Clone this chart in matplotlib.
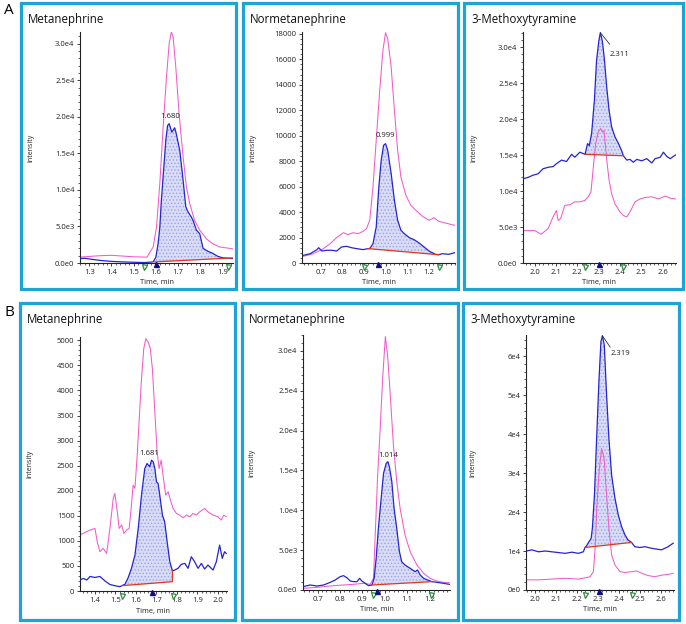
import numpy as np
import matplotlib
matplotlib.use('Agg')
import matplotlib.pyplot as plt
from matplotlib.patches import Rectangle
from matplotlib.ticker import FuncFormatter, AutoMinorLocator

plt.rcParams['font.family'] = ['Open Sans', 'DejaVu Sans']
plt.rcParams['hatch.linewidth'] = 0.6

W, H = 686, 624

# ---------------- data ----------------
# A1 Metanephrine
a1_blue_t = [1.258, 1.28, 1.30, 1.35, 1.40, 1.45, 1.50, 1.55, 1.588, 1.60, 1.61, 1.618, 1.625, 1.636, 1.645,
             1.653, 1.66, 1.672, 1.685, 1.692, 1.708, 1.723, 1.735, 1.745, 1.76, 1.768, 1.783, 1.798, 1.813,
             1.835, 1.858, 1.88, 1.903, 1.948]
a1_blue_i = [600, 650, 550, 350, 220, 150, 100, 60, 150, 800, 2600, 4900, 8600, 13100, 16800,
             18800, 19060, 17900, 18500, 17700, 15400, 11300, 7700, 7000, 6300, 5800, 4500, 4000, 2000,
             1600, 1300, 900, 700, 600]
a1_pink_t = [1.258, 1.30, 1.35, 1.40, 1.45, 1.50, 1.56, 1.588, 1.603, 1.618, 1.633, 1.648, 1.66, 1.67, 1.678,
             1.69, 1.705, 1.723, 1.738, 1.753, 1.775, 1.798, 1.828, 1.858, 1.888, 1.933, 1.948]
a1_pink_i = [800, 900, 1000, 1050, 950, 850, 800, 2200, 4900, 10900, 18600, 25400, 30000, 31600, 30900,
             26800, 20400, 14500, 10400, 8100, 5800, 4500, 3300, 2600, 2200, 2000, 1900]
a1_base_t = [1.595, 1.948]
a1_base_i = [150, 700]
a1_rt = '1.680'

# A2 Normetanephrine
a2_blue_t = [0.618, 0.651, 0.682, 0.69, 0.705, 0.727, 0.75, 0.773, 0.796, 0.819, 0.842, 0.865, 0.895, 0.918,
             0.926, 0.941, 0.956, 0.968, 0.979, 0.99, 0.999, 1.009, 1.025, 1.04, 1.055, 1.07, 1.086, 1.109,
             1.131, 1.154, 1.177, 1.2, 1.23, 1.245, 1.261, 1.291, 1.319]
a2_blue_i = [600, 730, 1050, 1200, 940, 1000, 1000, 940, 1260, 1310, 1200, 1130, 1050, 1130,
             1130, 1520, 2830, 5970, 8060, 9240, 9370, 8850, 7020, 4920, 3350, 2570, 2300, 1990,
             1830, 1570, 1260, 940, 680, 650, 730, 680, 810]
a2_pink_t = [0.618, 0.666, 0.712, 0.743, 0.773, 0.804, 0.826, 0.849, 0.872, 0.895, 0.911, 0.926, 0.941, 0.956,
             0.972, 0.987, 0.999, 1.009, 1.025, 1.04, 1.055, 1.07, 1.093, 1.116, 1.139, 1.17, 1.2, 1.223,
             1.245, 1.276, 1.299, 1.319]
a2_pink_i = [520, 730, 1130, 1520, 1990, 2380, 2230, 2380, 2300, 2490, 2700, 3350, 5970, 9630,
             13560, 16700, 18090, 17620, 15390, 11990, 8850, 6750, 5310, 4530, 4140, 3660, 3350, 3560,
             3270, 3140, 3040, 2960]
a2_base_t = [0.918, 1.245]
a2_base_i = [1130, 650]
a2_rt = '0.999'

# A3 3-Methoxytyramine
a3_blue_t = [1.945, 1.969, 1.992, 2.016, 2.039, 2.063, 2.086, 2.102, 2.126, 2.149, 2.173, 2.188, 2.212, 2.228,
             2.236, 2.248, 2.256, 2.267, 2.28, 2.29, 2.301, 2.308, 2.317, 2.326, 2.338, 2.349, 2.361, 2.377,
             2.393, 2.408, 2.416, 2.432, 2.447, 2.463, 2.479, 2.502, 2.526, 2.549, 2.565, 2.589, 2.604,
             2.62, 2.636, 2.66]
a3_blue_i = [11700, 11900, 12200, 12400, 13100, 13300, 13400, 13800, 14300, 14100, 15100, 14700, 15400, 15200,
             15100, 16600, 16300, 18000, 22600, 28100, 30900, 32000, 30900, 28600, 24400, 21200, 18900, 17500,
             16600, 15600, 14900, 14300, 14400, 14000, 14400, 14200, 14500, 13900, 14500, 14700, 15400,
             14800, 14500, 15000]
a3_pink_t = [1.945, 2.0, 2.031, 2.063, 2.086, 2.102, 2.11, 2.122, 2.141, 2.165, 2.188, 2.212, 2.236, 2.251,
             2.264, 2.275, 2.286, 2.298, 2.31, 2.317, 2.325, 2.338, 2.349, 2.361, 2.377, 2.40, 2.416, 2.432,
             2.447, 2.471, 2.494, 2.518, 2.549, 2.581, 2.612, 2.636, 2.66]
a3_pink_i = [4500, 4500, 4000, 4800, 6400, 7300, 5900, 6200, 8000, 8100, 8500, 8500, 8700, 9200,
             9900, 13300, 16600, 18200, 18700, 18200, 18400, 14300, 11500, 9600, 8200, 7100, 6600, 6400,
             7100, 8500, 8900, 9100, 9200, 8900, 9300, 9000, 8900]
a3_base_t = [2.236, 2.416]
a3_base_i = [15100, 14900]
a3_rt = '2.311'

# B1 Metanephrine
b1_blue_t = [1.327, 1.343, 1.36, 1.376, 1.40, 1.424, 1.449, 1.473, 1.497, 1.522, 1.53, 1.546, 1.562, 1.578,
             1.595, 1.611, 1.627, 1.643, 1.654, 1.667, 1.676, 1.684, 1.692, 1.70, 1.708, 1.716, 1.729,
             1.74, 1.752, 1.765, 1.778, 1.789, 1.805, 1.821, 1.838, 1.854, 1.87, 1.886, 1.903, 1.919,
             1.935, 1.951, 1.976, 1.992, 2.008, 2.021, 2.032, 2.04]
b1_blue_i = [220, 250, 220, 290, 270, 290, 200, 130, 105, 86, 106, 133, 266, 452,
             717, 1248, 1912, 2444, 2543, 2477, 2610, 2577, 2444, 2178, 2145, 1912, 1514,
             1381, 983, 584, 400, 418, 452, 531, 551, 452, 684, 584, 452, 551,
             438, 518, 418, 584, 916, 651, 783, 750]
b1_pink_t = [1.327, 1.351, 1.376, 1.40, 1.411, 1.424, 1.44, 1.457, 1.473, 1.489, 1.497, 1.509, 1.518, 1.53,
             1.541, 1.554, 1.567, 1.578, 1.586, 1.595, 1.606, 1.616, 1.627, 1.638, 1.648, 1.659, 1.67,
             1.68, 1.692, 1.703, 1.713, 1.723, 1.732, 1.745, 1.757, 1.768, 1.781, 1.797, 1.813, 1.83,
             1.846, 1.862, 1.878, 1.895, 1.911, 1.935, 1.951, 1.976, 2.0, 2.016, 2.028, 2.04]
b1_pink_i = [1116, 1169, 1215, 1248, 983, 784, 850, 750, 1248, 1846, 1946, 1580, 1248, 1315,
             1149, 1215, 1248, 1713, 2112, 2045, 2709, 3440, 4236, 4834, 5033, 4967, 4834,
             4435, 3572, 2776, 2444, 2610, 2311, 1912, 1979, 1813, 1647, 1547, 1514, 1461,
             1514, 1481, 1547, 1514, 1580, 1647, 1580, 1514, 1481, 1414, 1514, 1481]
b1_base_t = [1.53, 1.778, 1.778]
b1_base_i = [106, 186, 400]
b1_rt = '1.681'

# B2 Normetanephrine
b2_blue_t = [0.635, 0.667, 0.697, 0.727, 0.757, 0.779, 0.801, 0.816, 0.831, 0.846, 0.861, 0.876, 0.888, 0.898,
             0.913, 0.928, 0.943, 0.953, 0.962, 0.972, 0.983, 0.995, 1.007, 1.014, 1.021, 1.032, 1.042,
             1.054, 1.066, 1.076, 1.091, 1.114, 1.136, 1.147, 1.159, 1.174, 1.203, 1.211, 1.233, 1.263, 1.289]
b2_blue_i = [418, 628, 502, 628, 962, 1255, 1674, 1799, 1548, 1130, 1046, 1046, 1464, 1130,
             837, 544, 628, 1464, 3975, 7741, 11088, 14644, 15900, 16109, 15481, 13598, 10251,
             7741, 4812, 3556, 3138, 2720, 2301, 2510, 1883, 1464, 1130, 1050, 962, 837, 711]
b2_pink_t = [0.635, 0.682, 0.727, 0.771, 0.816, 0.861, 0.905, 0.935, 0.95, 0.959, 0.968, 0.98, 0.991, 1.003,
             1.013, 1.025, 1.039, 1.054, 1.069, 1.091, 1.114, 1.144, 1.174, 1.203, 1.233, 1.263, 1.289]
b2_pink_i = [209, 293, 418, 544, 628, 711, 837, 711, 1464, 7741, 14017, 20293, 26569, 31799,
             29498, 24477, 18201, 13598, 10251, 6904, 4812, 3138, 2092, 1464, 1130, 962, 920]
b2_base_t = [0.943, 1.211]
b2_base_i = [628, 1050]
b2_rt = '1.014'

# B3 3-Methoxytyramine
b3_blue_t = [1.958, 1.984, 2.016, 2.048, 2.079, 2.111, 2.143, 2.175, 2.206, 2.23, 2.238, 2.246, 2.257, 2.267,
             2.273, 2.283, 2.294, 2.305, 2.314, 2.321, 2.33, 2.341, 2.352, 2.365, 2.381, 2.397, 2.413,
             2.429, 2.444, 2.46, 2.476, 2.50, 2.524, 2.556, 2.579, 2.603, 2.635, 2.659]
b3_blue_i = [10000, 10300, 9800, 10000, 9800, 9600, 9400, 9700, 9400, 9800, 10900, 11400, 12400, 13200,
             15800, 24400, 39700, 54300, 63700, 65200, 62800, 50000, 38900, 29500, 23500, 19200, 16200,
             14100, 12800, 12200, 11100, 10900, 11100, 10700, 10500, 10300, 11100, 12000]
b3_pink_t = [1.958, 2.016, 2.079, 2.143, 2.206, 2.246, 2.262, 2.278, 2.286, 2.294, 2.305, 2.317, 2.329, 2.341,
             2.352, 2.365, 2.381, 2.405, 2.429, 2.46, 2.484, 2.508, 2.54, 2.571, 2.603, 2.635, 2.659]
b3_pink_i = [2600, 2600, 2800, 3000, 2800, 3200, 3400, 4700, 10700, 20900, 30300, 36300, 33800, 24400,
             15800, 9000, 6400, 4700, 4500, 4700, 4900, 4300, 3700, 3400, 3800, 4000, 4300]
b3_base_t = [2.238, 2.46]
b3_base_i = [10900, 12200]
b3_rt = '2.319'

titles = ['Metanephrine', 'Normetanephrine', '3-Methoxytyramine'] * 2

# ---------------- styling / layout ----------------
BLUE = '#2424d0'
PINK = '#f25acb'
RED = '#e5341f'
FRAME = '#1ea3d6'
GREEN = '#2e8b3e'


def fig_rect(l, t, r, b):
    return [l / W, 1 - b / H, (r - l) / W, (b - t) / H]


def sci1(v, pos):
    if v == 0:
        return '0.0e0'
    e = int(np.floor(np.log10(abs(v)) + 1e-9))
    return f'{v / 10 ** e:.1f}e{e}'


def sci0(v, pos):
    if v == 0:
        return '0e0'
    e = int(np.floor(np.log10(abs(v)) + 1e-9))
    return f'{v / 10 ** e:.0f}e{e}'


def plain(v, pos):
    return f'{v:.0f}'


panels = [
    dict(blue=(a1_blue_t, a1_blue_i), pink=(a1_pink_t, a1_pink_i), base=(a1_base_t, a1_base_i), rt=a1_rt,
         box=(21, 3, 236, 289), ax=(80, 32, 233, 263), xlim=(1.258, 1.948), ylim=(0, 31600),
         xticks=np.arange(1.3, 1.95, 0.1), yticks=np.arange(0, 30001, 5000), fmt=sci1,
         green=[1.546, 1.925], arrow=1.60, label=(1.664, 19500, 'center'), leader=None),
    dict(blue=(a2_blue_t, a2_blue_i), pink=(a2_pink_t, a2_pink_i), base=(a2_base_t, a2_base_i), rt=a2_rt,
         box=(243, 3, 458, 289), ax=(302, 32, 455, 263), xlim=(0.613, 1.32), ylim=(0, 18140),
         xticks=np.arange(0.7, 1.25, 0.1), yticks=np.arange(0, 18001, 2000), fmt=plain,
         green=[0.898, 1.245], arrow=0.966, label=(0.999, 9700, 'center'), leader=None),
    dict(blue=(a3_blue_t, a3_blue_i), pink=(a3_pink_t, a3_pink_i), base=(a3_base_t, a3_base_i), rt=a3_rt,
         box=(464, 3, 683, 289), ax=(523, 32, 676, 263), xlim=(1.945, 2.663), ylim=(0, 32100),
         xticks=np.arange(2.0, 2.65, 0.1), yticks=np.arange(0, 30001, 5000), fmt=sci1,
         green=[2.236, 2.416], arrow=2.301, label=(2.352, 29000, 'left'),
         leader=((2.308, 2.352), (32000, 30400))),
    dict(blue=(b1_blue_t, b1_blue_i), pink=(b1_pink_t, b1_pink_i), base=(b1_base_t, b1_base_i), rt=b1_rt,
         box=(20, 303, 235, 620), ax=(80, 337, 227, 591), xlim=(1.327, 2.044), ylim=(0, 5066),
         xticks=np.arange(1.4, 2.05, 0.1), yticks=np.arange(0, 5001, 500), fmt=plain,
         green=[1.53, 1.781], arrow=1.68, label=(1.667, 2680, 'center'), leader=None),
    dict(blue=(b2_blue_t, b2_blue_i), pink=(b2_pink_t, b2_pink_i), base=(b2_base_t, b2_base_i), rt=b2_rt,
         box=(242, 303, 458, 620), ax=(303, 335, 450, 590), xlim=(0.635, 1.292), ylim=(0, 32000),
         xticks=np.arange(0.7, 1.25, 0.1), yticks=np.arange(0, 30001, 5000), fmt=sci1,
         green=[0.947, 1.207], arrow=0.965, label=(1.015, 16500, 'center'), leader=None),
    dict(blue=(b3_blue_t, b3_blue_i), pink=(b3_pink_t, b3_pink_i), base=(b3_base_t, b3_base_i), rt=b3_rt,
         box=(463, 303, 679, 620), ax=(526, 335, 674, 590), xlim=(1.956, 2.663), ylim=(0, 65400),
         xticks=np.arange(2.0, 2.65, 0.1), yticks=np.arange(0, 60001, 10000), fmt=sci0,
         green=[2.238, 2.46], arrow=2.305, label=(2.362, 60700, 'left'),
         leader=((2.321, 2.358), (65200, 62300))),
]

fig = plt.figure(figsize=(W / 100, H / 100), dpi=100)

for p, title in zip(panels, titles):
    l, t, r, b = p['box']
    fig.patches.append(Rectangle((l / W, 1 - b / H), (r - l) / W, (b - t) / H, transform=fig.transFigure,
                                 fill=False, edgecolor=FRAME, linewidth=2.3, zorder=0))
    fig.text((l + 7) / W, 1 - (t + 16) / H, title, fontsize=8.3, va='center', ha='left', color='#111111')

    al, at, ar, ab = p['ax']
    ax = fig.add_axes(fig_rect(al, at, ar, ab))
    bt, bi = p['blue']
    pt, pi = p['pink']
    st, si = p['base']

    # shaded integration area: blue trace between baseline ends, closed along the red baseline
    sel = [k for k, tt in enumerate(bt) if st[0] <= tt <= st[-1]]
    poly_x = [bt[k] for k in sel] + list(st[::-1])
    poly_y = [bi[k] for k in sel] + list(si[::-1])
    ax.fill(poly_x, poly_y, facecolor='#d9dcf6', edgecolor='#9ea2e6', hatch='.....', linewidth=0, zorder=1)

    ax.plot(pt, pi, color=PINK, lw=0.75, zorder=2)
    ax.plot(bt, bi, color=BLUE, lw=0.9, zorder=3)
    ax.plot(st, si, color=RED, lw=0.9, zorder=4)

    lx, ly, ha = p['label']
    ax.text(lx, ly, p['rt'], fontsize=5.6, ha=ha, va='bottom' if ha == 'center' else 'center', color='#222222')
    if p['leader'] is not None:
        ax.plot(p['leader'][0], p['leader'][1], color='#333333', lw=0.6, zorder=5)

    tr = ax.get_xaxis_transform()
    ax.plot(p['green'], [-0.018] * len(p['green']), ls='none', marker='v', ms=3.6, mfc='white', mec=GREEN,
            mew=0.9, transform=tr, clip_on=False, zorder=6)
    ax.plot([p['arrow']], [-0.005], ls='none', marker='^', ms=3.6, color='#101080', transform=tr,
            clip_on=False, zorder=6)

    ax.set_xlim(*p['xlim'])
    ax.set_ylim(*p['ylim'])
    ax.set_xticks(p['xticks'])
    ax.xaxis.set_major_formatter(FuncFormatter(lambda v, pos: f'{v:.1f}'))
    ax.set_yticks(p['yticks'])
    ax.yaxis.set_major_formatter(FuncFormatter(p['fmt']))
    ax.xaxis.set_minor_locator(AutoMinorLocator(5))
    ax.yaxis.set_minor_locator(AutoMinorLocator(5))
    ax.tick_params(which='major', labelsize=5.5, length=2.5, width=0.6, pad=1.5, colors='#222222')
    ax.tick_params(which='minor', length=1.4, width=0.5, colors='#222222')
    for side in ('top', 'right'):
        ax.spines[side].set_visible(False)
    for side in ('left', 'bottom'):
        ax.spines[side].set_linewidth(0.8)
        ax.spines[side].set_color('#222222')
    ax.patch.set_alpha(0)

    fig.text((l + 10) / W, 1 - ((at + ab) / 2) / H, 'Intensity', rotation=90, fontsize=5,
             ha='center', va='center', color='#222222')
    fig.text(((al + ar) / 2) / W, 1 - (ab + 20) / H, 'Time, min', fontsize=5.3,
             ha='center', va='center', color='#222222')

fig.text(9 / W, 1 - 10 / H, 'A', fontsize=11, ha='center', va='center')
fig.text(9 / W, 1 - 312 / H, 'B', fontsize=11, ha='center', va='center')

fig.savefig('out.png', dpi=100)
